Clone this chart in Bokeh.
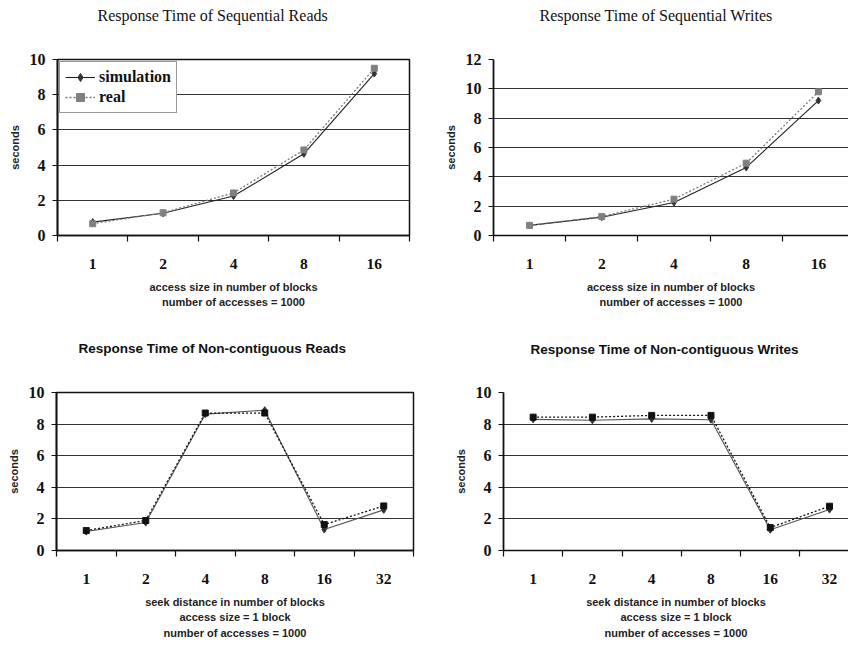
from bokeh.plotting import figure
from bokeh.models import Range1d, FixedTicker, Legend, LegendItem, Label
from bokeh.layouts import column, row
from bokeh.embed import file_html
from bokeh.resources import INLINE

# ---- data ----
seq_sizes = ["1", "2", "4", "8", "16"]
seek_dists = ["1", "2", "4", "8", "16", "32"]

seq_read_sim = [0.76, 1.26, 2.24, 4.64, 9.2]
seq_read_real = [0.67, 1.29, 2.42, 4.86, 9.5]

seq_write_sim = [0.69, 1.25, 2.25, 4.64, 9.2]
seq_write_real = [0.69, 1.29, 2.48, 4.93, 9.8]

nc_read_sim = [1.2, 1.77, 8.63, 8.88, 1.33, 2.57]
nc_read_real = [1.26, 1.9, 8.7, 8.7, 1.64, 2.82]

nc_write_sim = [8.3, 8.24, 8.33, 8.28, 1.31, 2.59]
nc_write_real = [8.44, 8.44, 8.55, 8.55, 1.45, 2.8]

titles = [
    "Response Time of Sequential Reads",
    "Response Time of Sequential Writes",
    "Response Time of Non-contiguous Reads",
    "Response Time of Non-contiguous Writes",
]
seq_xlabel = "access size in number of blocks\nnumber of accesses = 1000"
nc_xlabel = "seek distance in number of blocks\naccess size = 1 block\nnumber of accesses = 1000"
ylabel = "seconds"
legend_labels = ["simulation", "real"]

SERIF = "Liberation Serif"
SANS = "Liberation Sans"


def panel(cats, sim, real, ymax, width, height, borders, xend, title, serif_title,
          title_pos, xlabel, outline, dark_real, legend=False):
    n = len(cats)
    xs = [i + 0.5 for i in range(n)]
    left, right, top, bottom = borders
    p = figure(width=width, height=height, output_backend="svg", toolbar_location=None,
               x_range=Range1d(0, xend), y_range=Range1d(0, ymax),
               min_border_left=left, min_border_right=right,
               min_border_top=top, min_border_bottom=bottom,
               title=None, background_fill_color="white", border_fill_color="white")

    # chart title: a screen-positioned label living in the "above" side panel
    tlab = Label(x=title_pos[0], y=title_pos[1], x_units="screen", y_units="screen",
                 text=title, text_align="left", text_baseline="middle",
                 text_color="#111111")
    if serif_title:
        tlab.text_font = SERIF
        tlab.text_font_style = "normal"
        tlab.text_font_size = "16px"
    else:
        tlab.text_font = SANS
        tlab.text_font_style = "bold"
        tlab.text_font_size = "13.5px"
    p.add_layout(tlab, "above")

    p.outline_line_color = "#111111" if outline else None
    p.outline_line_width = 1.5

    # x axis
    xa = p.xaxis[0]
    xa.ticker = FixedTicker(ticks=xs, minor_ticks=list(range(n + 1)))
    xa.major_label_overrides = {x: c for x, c in zip(xs, cats)}
    xa.major_tick_line_color = None
    xa.major_tick_out = 0
    xa.major_tick_in = 0
    xa.minor_tick_out = 6
    xa.minor_tick_in = 0
    xa.minor_tick_line_color = "#111111"
    xa.minor_tick_line_width = 1.2
    xa.axis_line_color = "#111111"
    xa.axis_line_width = 1.5
    xa.major_label_text_font = SERIF
    xa.major_label_text_font_style = "bold"
    xa.major_label_text_font_size = "15.5px"
    xa.major_label_text_color = "#111111"
    xa.major_label_standoff = 17
    xa.axis_label = xlabel
    xa.axis_label_text_font = SANS
    xa.axis_label_text_font_style = "bold"
    xa.axis_label_text_font_size = "11px"
    xa.axis_label_text_color = "#222222"
    xa.axis_label_text_line_height = 1.32
    xa.axis_label_standoff = 9

    # y axis
    ya = p.yaxis[0]
    ya.ticker = FixedTicker(ticks=list(range(0, ymax + 1, 2)))
    ya.major_tick_out = 5
    ya.major_tick_in = 0
    ya.major_tick_line_color = "#111111"
    ya.minor_tick_line_color = None
    ya.axis_line_color = "#111111"
    ya.axis_line_width = 1.8
    ya.major_label_text_font = SERIF
    ya.major_label_text_font_style = "bold"
    ya.major_label_text_font_size = "16px"
    ya.major_label_text_color = "#111111"
    ya.major_label_standoff = 7
    ya.axis_label = ylabel
    ya.axis_label_text_font = SANS
    ya.axis_label_text_font_style = "bold"
    ya.axis_label_text_font_size = "11px"
    ya.axis_label_text_color = "#222222"
    ya.axis_label_standoff = 6

    p.xgrid.visible = False
    p.ygrid.grid_line_color = "#333333"
    p.ygrid.grid_line_width = 1.2

    if dark_real:
        sim_line_c, sim_mark_c = "#555555", "#333333"
        real_line_c, real_mark_c = "#111111", "#111111"
    else:
        sim_line_c, sim_mark_c = "#222222", "#333333"
        real_line_c, real_mark_c = "#777777", "#808080"

    r_sl = p.line(xs, sim, line_color=sim_line_c, line_width=1.1)
    r_sm = p.scatter(xs, sim, marker="diamond", size=7, fill_color=sim_mark_c,
                     line_color=sim_mark_c)
    r_rl = p.line(xs, real, line_color=real_line_c, line_width=1.3, line_dash="2 2")
    r_rm = p.scatter(xs, real, marker="square", size=6, fill_color=real_mark_c,
                     line_color=real_mark_c)

    if legend:
        lg = Legend(items=[LegendItem(label=legend_labels[0], renderers=[r_sl, r_sm]),
                           LegendItem(label=legend_labels[1], renderers=[r_rl, r_rm])],
                    location="top_left", margin=2, padding=5, spacing=0,
                    glyph_width=30, glyph_height=20, label_height=20,
                    label_standoff=4,
                    label_text_font=SERIF, label_text_font_style="bold",
                    label_text_font_size="16px", label_text_color="#111111",
                    border_line_color="#333333", border_line_width=1.2,
                    background_fill_color="white", background_fill_alpha=1.0)
        p.add_layout(lg)
    return p


tl = panel(seq_sizes, seq_read_sim, seq_read_real, 10, 424, 318, (57, 15, 55, 83),
           len(seq_sizes), titles[0], True, (40, 44), seq_xlabel, True, False, legend=True)
tr = panel(seq_sizes, seq_write_sim, seq_write_real, 12, 424, 318, (69, 0, 59, 79),
           4.917, titles[1], True, (46, 44), seq_xlabel, False, False)
bl = panel(seek_dists, nc_read_sim, nc_read_real, 10, 424, 329, (56, 11, 74, 97),
           len(seek_dists), titles[2], False, (22, 44), nc_xlabel, True, True)
br = panel(seek_dists, nc_write_sim, nc_write_real, 10, 424, 329, (79, 0, 73, 95),
           5.82, titles[3], False, (27, 43), nc_xlabel, False, True)

layout = column(row(tl, tr), row(bl, br))

open("out.html", "w").write(file_html(layout, INLINE))
